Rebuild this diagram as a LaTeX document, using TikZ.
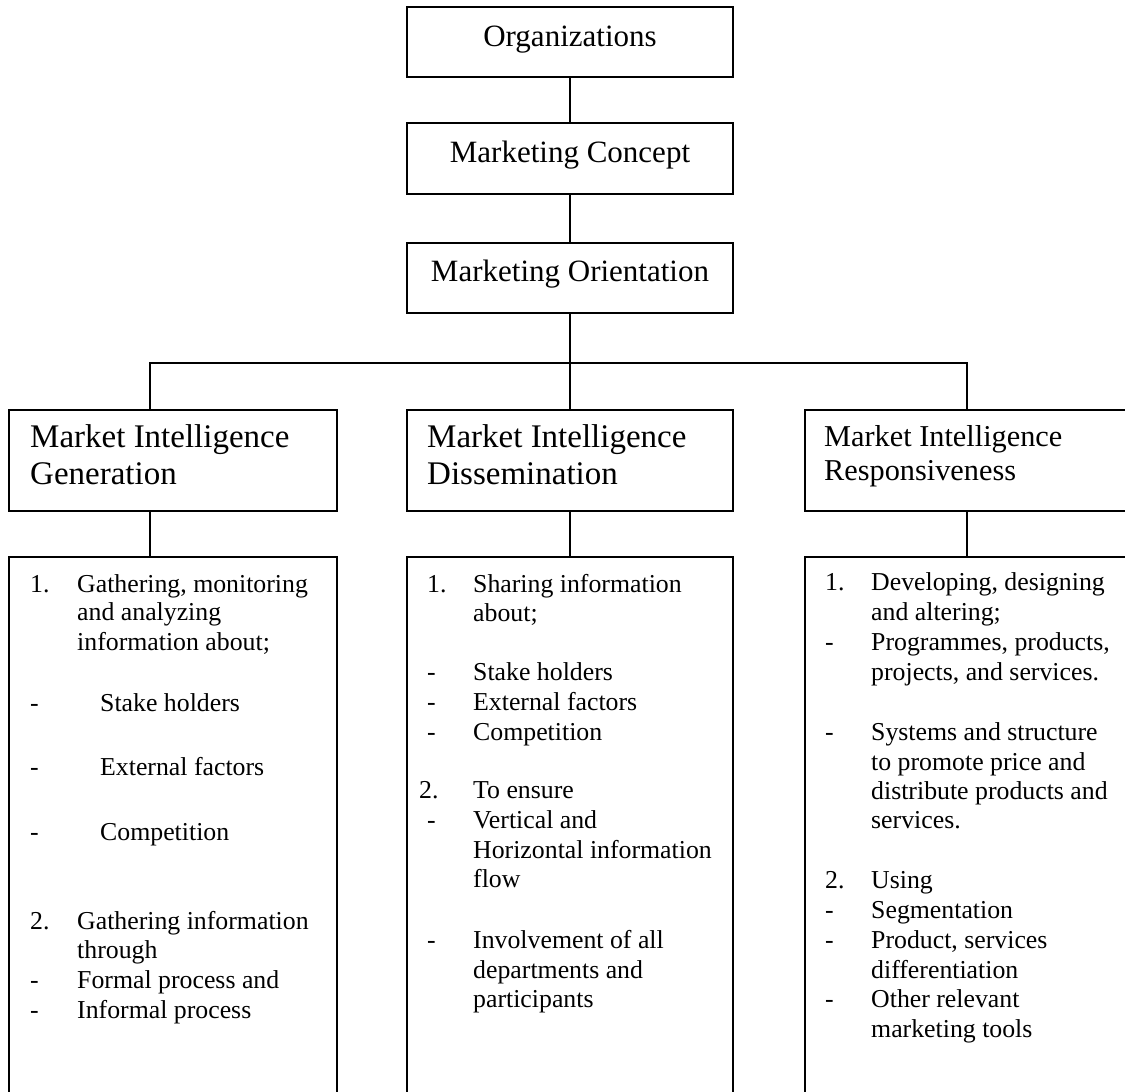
\documentclass[tikz,border=0pt]{standalone}
\usepackage{fontspec}
\setmainfont{Liberation Serif}
\begin{document}
\begin{tikzpicture}[x=1pt,y=-1pt,
  box/.style={draw, line width=1.5pt, rectangle, inner sep=0pt, outer sep=0pt, anchor=north west},
  ttl/.style={font=\fontsize{31}{36}\selectfont, anchor=base, inner sep=0pt},
  hd/.style={font=\fontsize{33}{38}\selectfont, anchor=base west, inner sep=0pt},
  hdr/.style={font=\fontsize{30.3}{35}\selectfont, anchor=base west, inner sep=0pt},
  tx/.style={font=\fontsize{25.8}{30}\selectfont, anchor=base west, inner sep=0pt},
  conn/.style={line width=1.5pt}]
\useasboundingbox (0,0) rectangle (1125,1092);
% boxes
\node[box, minimum width=326pt, minimum height=70pt] (org) at (407,7) {};
\node[box, minimum width=326pt, minimum height=71pt] (con) at (407,123) {};
\node[box, minimum width=326pt, minimum height=70pt] (ori) at (407,243) {};
\node[box, minimum width=328pt, minimum height=101pt] (gen) at (9,410) {};
\node[box, minimum width=326pt, minimum height=101pt] (dis) at (407,410) {};
\node[box, minimum width=340pt, minimum height=101pt] (res) at (805,410) {};
\node[box, minimum width=328pt, minimum height=560pt] (genl) at (9,557) {};
\node[box, minimum width=326pt, minimum height=560pt] (disl) at (407,557) {};
\node[box, minimum width=340pt, minimum height=560pt] (resl) at (805,557) {};
% connectors
\coordinate (busL) at (150,363);
\coordinate (busR) at (967,363);
\draw[conn] (org.south) -- (con.north);
\draw[conn] (con.south) -- (ori.north);
\draw[conn] (ori.south) -- (dis.north);
\draw[conn] (busL |- gen.north) -- (busL) -- (busR) -- (busR |- res.north);
\draw[conn] (gen.south -| busL) -- (genl.north -| busL);
\draw[conn] (dis.south) -- (disl.north);
\draw[conn] (res.south -| busR) -- (resl.north -| busR);
% titles
\node[ttl] (orgt) at (570,46) {Organizations};
\node[ttl] (cont) at (570,162) {Marketing Concept};
\node[ttl] (orit) at (570,281) {Marketing Orientation};
% headers
\node[hd] (gen1) at (30,447) {Market Intelligence};
\node[hd] (gen2) at (30,484) {Generation};
\node[hd] (dis1) at (427,447) {Market Intelligence};
\node[hd] (dis2) at (427,484) {Dissemination};
\node[hdr] (res1) at (824,446) {Market Intelligence};
\node[hdr] (res2) at (824,480) {Responsiveness};
% left list
\node[tx] (a1) at (30,592) {1.};
\node[tx] (a2) at (77,592) {Gathering, monitoring};
\node[tx] (a3) at (77,620) {and analyzing};
\node[tx] (a4) at (77,650) {information about;};
\node[tx] (a5) at (30,711) {-};
\node[tx] (a6) at (100,711) {Stake holders};
\node[tx] (a7) at (30,775) {-};
\node[tx] (a8) at (100,775) {External factors};
\node[tx] (a9) at (30,840) {-};
\node[tx] (a10) at (100,840) {Competition};
\node[tx] (a11) at (30,929) {2.};
\node[tx] (a12) at (77,929) {Gathering information};
\node[tx] (a13) at (77,958) {through};
\node[tx] (a14) at (30,988) {-};
\node[tx] (a15) at (77,988) {Formal process and};
\node[tx] (a16) at (30,1018) {-};
\node[tx] (a17) at (77,1018) {Informal process};
% middle list
\node[tx] (b1) at (427,592) {1.};
\node[tx] (b2) at (473,592) {Sharing information};
\node[tx] (b3) at (473,621) {about;};
\node[tx] (b4) at (427,680) {-};
\node[tx] (b5) at (473,680) {Stake holders};
\node[tx] (b6) at (427,710) {-};
\node[tx] (b7) at (473,710) {External factors};
\node[tx] (b8) at (427,740) {-};
\node[tx] (b9) at (473,740) {Competition};
\node[tx] (b10) at (419,798) {2.};
\node[tx] (b11) at (473,798) {To ensure};
\node[tx] (b12) at (427,828) {-};
\node[tx] (b13) at (473,828) {Vertical and};
\node[tx] (b14) at (473,858) {Horizontal information};
\node[tx] (b15) at (473,887) {flow};
\node[tx] (b16) at (427,948) {-};
\node[tx] (b17) at (473,948) {Involvement of all};
\node[tx] (b18) at (473,978) {departments and};
\node[tx] (b19) at (473,1007) {participants};
% right list
\node[tx] (c1) at (825,590) {1.};
\node[tx] (c2) at (871,590) {Developing, designing};
\node[tx] (c3) at (871,620) {and altering;};
\node[tx] (c4) at (825,650) {-};
\node[tx] (c5) at (871,650) {Programmes, products,};
\node[tx] (c6) at (871,680) {projects, and services.};
\node[tx] (c7) at (825,740) {-};
\node[tx] (c8) at (871,740) {Systems and structure};
\node[tx] (c9) at (871,770) {to promote price and};
\node[tx] (c10) at (871,799) {distribute products and};
\node[tx] (c11) at (871,828) {services.};
\node[tx] (c12) at (825,888) {2.};
\node[tx] (c13) at (871,888) {Using};
\node[tx] (c14) at (825,918) {-};
\node[tx] (c15) at (871,918) {Segmentation};
\node[tx] (c16) at (825,948) {-};
\node[tx] (c17) at (871,948) {Product, services};
\node[tx] (c18) at (871,978) {differentiation};
\node[tx] (c19) at (825,1007) {-};
\node[tx] (c20) at (871,1007) {Other relevant};
\node[tx] (c21) at (871,1037) {marketing tools};
\end{tikzpicture}
\end{document}
